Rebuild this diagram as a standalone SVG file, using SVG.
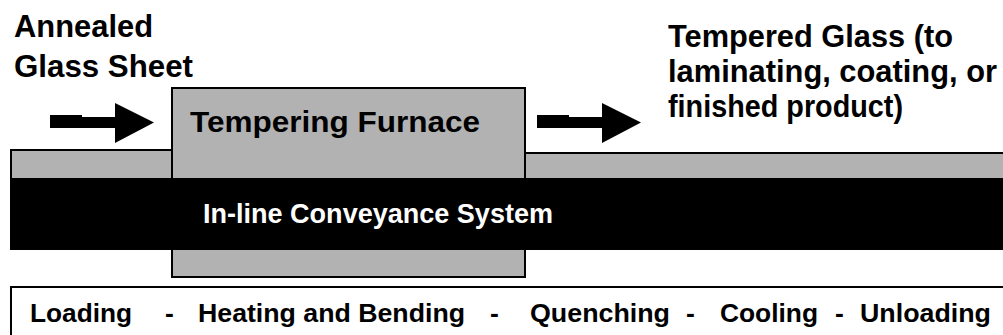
<svg xmlns="http://www.w3.org/2000/svg" width="1003" height="335" viewBox="0 0 1003 335">
  <style>
    .lbl { font-family: "Liberation Sans", Arial, sans-serif; font-weight: bold; fill: #000; }
    .gray { fill: #b2b2b2; stroke: #000; stroke-width: 2; }
    .arrow { fill: #000; }
  </style>
  <defs>
    <!-- block arrow, origin at top-left of the shaft -->
    <path id="blockArrow" d="M0,0 H32 V2 H65 V-12 L104,7.5 L65,28 V13 H0 Z"/>
  </defs>

  <rect width="1003" height="335" fill="#fff"/>

  <!-- input label -->
  <g id="input-label">
    <text class="lbl" x="14" y="37" font-size="30.5" textLength="139" lengthAdjust="spacingAndGlyphs">Annealed</text>
    <text class="lbl" x="14" y="77" font-size="30.5" textLength="179" lengthAdjust="spacingAndGlyphs">Glass Sheet</text>
  </g>

  <!-- output label -->
  <g id="output-label">
    <text class="lbl" x="668" y="47" font-size="30.5" textLength="285" lengthAdjust="spacingAndGlyphs">Tempered Glass (to</text>
    <text class="lbl" x="668" y="82" font-size="30.5" textLength="329" lengthAdjust="spacingAndGlyphs">laminating, coating, or</text>
    <text class="lbl" x="668" y="117" font-size="30.5" textLength="235" lengthAdjust="spacingAndGlyphs">finished product)</text>
  </g>

  <!-- tempering furnace (sits behind the conveyor) -->
  <g id="furnace">
    <rect class="gray" x="172" y="88" width="353" height="189"/>
    <text class="lbl" x="190" y="132" font-size="29" textLength="290" lengthAdjust="spacingAndGlyphs">Tempering Furnace</text>
  </g>

  <!-- conveyor: glass bed strips and black belt -->
  <g id="conveyor">
    <rect class="gray" x="11" y="150" width="161" height="30"/>
    <rect class="gray" x="525" y="153" width="490" height="27"/>
    <rect x="10" y="178" width="1000" height="72" fill="#000"/>
    <text class="lbl" x="203" y="223" font-size="27" fill="#fff" style="fill:#fff" textLength="350" lengthAdjust="spacingAndGlyphs">In-line Conveyance System</text>
  </g>

  <!-- process stages -->
  <g id="stages">
    <rect x="11" y="287" width="1010" height="60" fill="#fff" stroke="#000" stroke-width="2"/>
    <g font-size="26.5">
      <text class="lbl" x="30" y="322" textLength="102" lengthAdjust="spacingAndGlyphs">Loading</text>
      <text class="lbl" x="165" y="322">-</text>
      <text class="lbl" x="198" y="322" textLength="267" lengthAdjust="spacingAndGlyphs">Heating and Bending</text>
      <text class="lbl" x="490" y="322">-</text>
      <text class="lbl" x="530" y="322" textLength="140" lengthAdjust="spacingAndGlyphs">Quenching</text>
      <text class="lbl" x="686" y="322">-</text>
      <text class="lbl" x="720" y="322" textLength="98" lengthAdjust="spacingAndGlyphs">Cooling</text>
      <text class="lbl" x="835" y="322">-</text>
      <text class="lbl" x="860" y="322" textLength="131" lengthAdjust="spacingAndGlyphs">Unloading</text>
    </g>
  </g>

  <!-- flow arrows -->
  <g id="connectors">
    <use href="#blockArrow" class="arrow" x="50" y="115"/>
    <use href="#blockArrow" class="arrow" x="537" y="115"/>
  </g>
</svg>
